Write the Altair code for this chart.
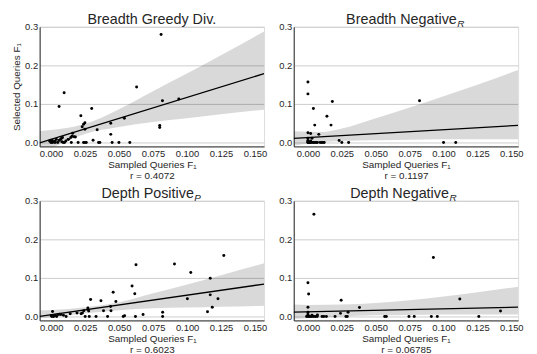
import altair as alt
import pandas as pd

FONT = "Liberation Sans"
INK = "#262626"

titles_main = ["Breadth Greedy Div.", "Breadth Negative", "Depth Positive", "Depth Negative"]
titles_sub = ["", "R", "P", "R"]
r_values = ["0.4072", "0.1197", "0.6023", "0.06785"]
x_domains = [[-0.0083, 0.1567], [-0.0105, 0.155], [-0.0085, 0.1566], [-0.0105, 0.155]]
y_domain = [-0.0103, 0.3]
x_ticks = [0.0, 0.025, 0.05, 0.075, 0.1, 0.125, 0.15]
y_ticks = [0.0, 0.1, 0.2, 0.3]

# ---- Panel 1: Breadth Greedy Div.
px1 = [0.081, 0.0097, 0.006, 0.063, 0.030, 0.022, 0.025, 0.024, 0.023, 0.025, 0.034, 0.044, 0.054,
       0.082, 0.094, 0.080, 0.080, 0.044, 0.016, 0.017, 0.0155, 0.0146, 0.0126, 0.011, 0.031,
       0.015, 0.020, 0.024, 0.025, 0.026, 0.035, 0.036, 0.045, 0.050, 0.058,
       0.0, 0.001, 0.002, 0.003, 0.004, 0.005, 0.006, 0.007, 0.008, 0.009, 0.010, -0.001, 0.0,
       0.001, 0.003, 0.0085, 0.0078, 0.013, 0.018]
py1 = [0.280, 0.129, 0.093, 0.144, 0.088, 0.069, 0.051, 0.047, 0.041, 0.034, 0.033, 0.050, 0.063,
       0.108, 0.113, 0.044, 0.039, 0.021, 0.024, 0.015, 0.016, 0.013, 0.008, 0.004, 0.006,
       0.0, 0.0, 0.0, 0.0, 0.0, 0.0, 0.0, 0.0, 0.0, 0.0,
       0.0, 0.0, 0.001, 0.003, 0.008, 0.0, 0.005, 0.008, 0.002, 0.0, 0.0, 0.004, 0.006,
       0.005, 0.0, 0.013, 0.011, 0.008, 0.014]
band_x1 = [-0.0083, 0.0, 0.01, 0.025, 0.05, 0.075, 0.1, 0.125, 0.1567]
band_lo1 = [-0.031, -0.016, 0.001, 0.022, 0.040, 0.053, 0.063, 0.073, 0.085]
band_hi1 = [0.029, 0.032, 0.037, 0.048, 0.086, 0.133, 0.179, 0.226, 0.288]
line_x1 = [-0.0083, 0.1567]
line_y1 = [-0.001, 0.1785]

# ---- Panel 2: Breadth Negative_R
px2 = [0.0, 0.0, 0.004, 0.018, 0.014, 0.005, 0.017, 0.000, 0.002, 0.008, 0.003, 0.0, 0.023,
       0.025, 0.030, 0.0823, 0.100, 0.109,
       0.0, 0.001, 0.002, 0.003, 0.004, 0.005, 0.006, 0.007, 0.009, 0.010, 0.011, 0.012,
       0.0, 0.0, 0.002, 0.0, 0.001]
py2 = [0.157, 0.126, 0.088, 0.106, 0.068, 0.045, 0.045, 0.025, 0.023, 0.021, 0.011, 0.011, 0.005,
       0.0, 0.0, 0.108, 0.0, 0.0,
       0.0, 0.0, 0.0, 0.0, 0.0, 0.0, 0.0, 0.0, 0.0, 0.0, 0.0, 0.0,
       0.005, 0.003, 0.004, 0.0, 0.0]
band_x2 = [-0.0105, 0.0, 0.01, 0.025, 0.05, 0.075, 0.1, 0.125, 0.155]
band_lo2 = [-0.008, -0.003, 0.001, 0.004, 0.006, 0.007, 0.008, 0.008, 0.008]
band_hi2 = [0.029, 0.028, 0.027, 0.036, 0.063, 0.091, 0.120, 0.150, 0.188]
line_x2 = [-0.0105, 0.155]
line_y2 = [0.0105, 0.0445]

# ---- Panel 3: Depth Positive_P
px3 = [0.127, 0.0624, 0.0907, 0.1027, 0.0595, 0.0615, 0.117, 0.0456, 0.029, 0.0366, 0.0476, 0.0437,
       0.044, 0.0385, 0.1002, 0.117, 0.1185, 0.1227, 0.115, 0.082, 0.082, 0.0676, 0.054, 0.053,
       0.062, 0.0415, 0.033, 0.025, 0.028, 0.027, 0.0276, 0.027, 0.024, 0.023, 0.022,
       0.001, 0.0005, 0.0017, 0.003, 0.004, 0.005, 0.007, 0.009, 0.011, 0.014, 0.019, 0.0, 0.002, 0.006]
py3 = [0.158, 0.134, 0.136, 0.114, 0.079, 0.059, 0.099, 0.063, 0.044, 0.041, 0.039, 0.026,
       0.015, 0.015, 0.046, 0.056, 0.024, 0.046, 0.012, 0.011, 0.0, 0.005, 0.002, 0.0,
       0.0, 0.0, 0.0, 0.0, 0.0, 0.018, 0.014, 0.022, 0.015, 0.009, 0.007,
       0.013, 0.0, 0.0, 0.003, 0.0, 0.005, 0.005, 0.003, 0.0, 0.007, 0.009, 0.002, 0.001, 0.006]
band_x3 = [-0.0085, 0.0, 0.025, 0.05, 0.075, 0.1, 0.125, 0.1566]
band_lo3 = [-0.004, -0.002, 0.008, 0.016, 0.021, 0.023, 0.025, 0.028]
band_hi3 = [0.016, 0.017, 0.024, 0.037, 0.060, 0.083, 0.107, 0.138]
line_x3 = [-0.0085, 0.1566]
line_y3 = [0.0, 0.084]

# ---- Panel 4: Depth Negative_R
px4 = [0.0044, 0.0925, 0.0, 0.0005, 0.0, 0.0245, 0.038, 0.024, 0.0296, 0.112, 0.142, 0.0, 0.0,
       0.003, 0.007,
       -0.001, 0.0, 0.001, 0.002, 0.003, 0.0044, 0.0056, 0.0068, 0.0104, 0.0117, 0.0136, 0.020,
       0.028, 0.029, 0.0566, 0.0578, 0.0745, 0.0784, 0.091, 0.0954, 0.126]
py4 = [0.265, 0.153, 0.0876, 0.058, 0.024, 0.042, 0.023, 0.008, 0.011, 0.045, 0.014, 0.011, 0.005,
       0.003, 0.004,
       0.0, 0.0, 0.0, 0.0, 0.0, 0.0, 0.0, 0.0, 0.0, 0.0, 0.0, 0.0,
       0.0, 0.0, 0.0, 0.0, 0.0, 0.0, 0.0, 0.0, 0.0]
band_x4 = [-0.0105, 0.0, 0.025, 0.05, 0.075, 0.1, 0.125, 0.155]
band_lo4 = [-0.006, -0.004, 0.000, 0.003, 0.004, 0.005, 0.005, 0.005]
band_hi4 = [0.031, 0.030, 0.031, 0.035, 0.042, 0.052, 0.063, 0.077]
line_x4 = [-0.0105, 0.155]
line_y4 = [0.011, 0.024]

points = [(px1, py1), (px2, py2), (px3, py3), (px4, py4)]
bands = [(band_x1, band_lo1, band_hi1), (band_x2, band_lo2, band_hi2),
         (band_x3, band_lo3, band_hi3), (band_x4, band_lo4, band_hi4)]
lines = [(line_x1, line_y1), (line_x2, line_y2), (line_x3, line_y3), (line_x4, line_y4)]

W, H = 227, 121
title_anchor = [W / 2, 165, 156, 157]


def panel(i):
    xs = alt.Scale(domain=x_domains[i], nice=False, zero=False)
    ys = alt.Scale(domain=y_domain, nice=False, zero=False)
    xaxis = alt.Axis(values=x_ticks, format=".3f",
                     title=["Sampled Queries F\u2081", "r = " + r_values[i]],
                     grid=False, ticks=False, labelPadding=2, titlePadding=2,
                     labelOverlap=False, labelFlush=False,
                     domainColor=INK, labelColor=INK, titleColor=INK,
                     labelFontSize=9.5, titleFontSize=10, titleLineHeight=10.5,
                     titleFontWeight="normal", labelFont=FONT, titleFont=FONT)
    yargs = dict(values=y_ticks, format=".1f", grid=True, gridColor="#cccccc",
                 ticks=False, labelPadding=2, domainColor=INK, labelColor=INK,
                 titleColor=INK, labelFontSize=9.5, titleFontSize=10,
                 titleFontWeight="normal", titlePadding=3, labelFont=FONT, titleFont=FONT)
    if i == 0:
        yaxis = alt.Axis(title="Selected Queries F\u2081", **yargs)
    else:
        yaxis = alt.Axis(title=None, **yargs)

    bx, blo, bhi = bands[i]
    df_band = pd.DataFrame({"x": bx, "lo": blo, "hi": bhi})
    lx, ly = lines[i]
    df_line = pd.DataFrame({"x": lx, "y": ly})
    ptx, pty = points[i]
    df_pts = pd.DataFrame({"x": ptx, "y": pty})

    band = alt.Chart(df_band).mark_area(color="black", opacity=0.15, clip=True,
                                         interpolate="monotone").encode(
        x=alt.X("x:Q", scale=xs, axis=xaxis),
        y=alt.Y("lo:Q", scale=ys, axis=yaxis),
        y2="hi:Q")
    line = alt.Chart(df_line).mark_line(color="black", strokeWidth=1.3, clip=True).encode(
        x=alt.X("x:Q", scale=xs, axis=xaxis),
        y=alt.Y("y:Q", scale=ys, axis=yaxis))
    pts = alt.Chart(df_pts).mark_circle(color="black", size=9, opacity=1).encode(
        x=alt.X("x:Q", scale=xs, axis=xaxis),
        y=alt.Y("y:Q", scale=ys, axis=yaxis))

    one = pd.DataFrame({"k": [0]})
    layers = [band, line, pts]
    if titles_sub[i]:
        layers.append(alt.Chart(one).mark_text(
            text=titles_main[i], align="right", baseline="alphabetic",
            fontSize=14.5, font=FONT, color=INK).encode(
            x=alt.value(title_anchor[i]), y=alt.value(-2.5)))
        layers.append(alt.Chart(one).mark_text(
            text=titles_sub[i], align="left", baseline="alphabetic",
            fontSize=10, fontStyle="italic", font=FONT, color=INK).encode(
            x=alt.value(title_anchor[i] + 0.5), y=alt.value(0)))
    else:
        layers.append(alt.Chart(one).mark_text(
            text=titles_main[i], align="center", baseline="alphabetic",
            fontSize=14.5, font=FONT, color=INK).encode(
            x=alt.value(title_anchor[i]), y=alt.value(-2.5)))
    return alt.layer(*layers).properties(width=W, height=H)


chart = alt.concat(panel(0), panel(1), panel(2), panel(3), columns=2,
                   spacing={"row": 55, "column": 30}, bounds="flush").properties(
    padding={"left": 3, "top": 2, "right": 5, "bottom": 2}
).configure_view(stroke=None).configure(font=FONT)

chart.save("out.html", embed_options={"renderer": "svg", "actions": False})
